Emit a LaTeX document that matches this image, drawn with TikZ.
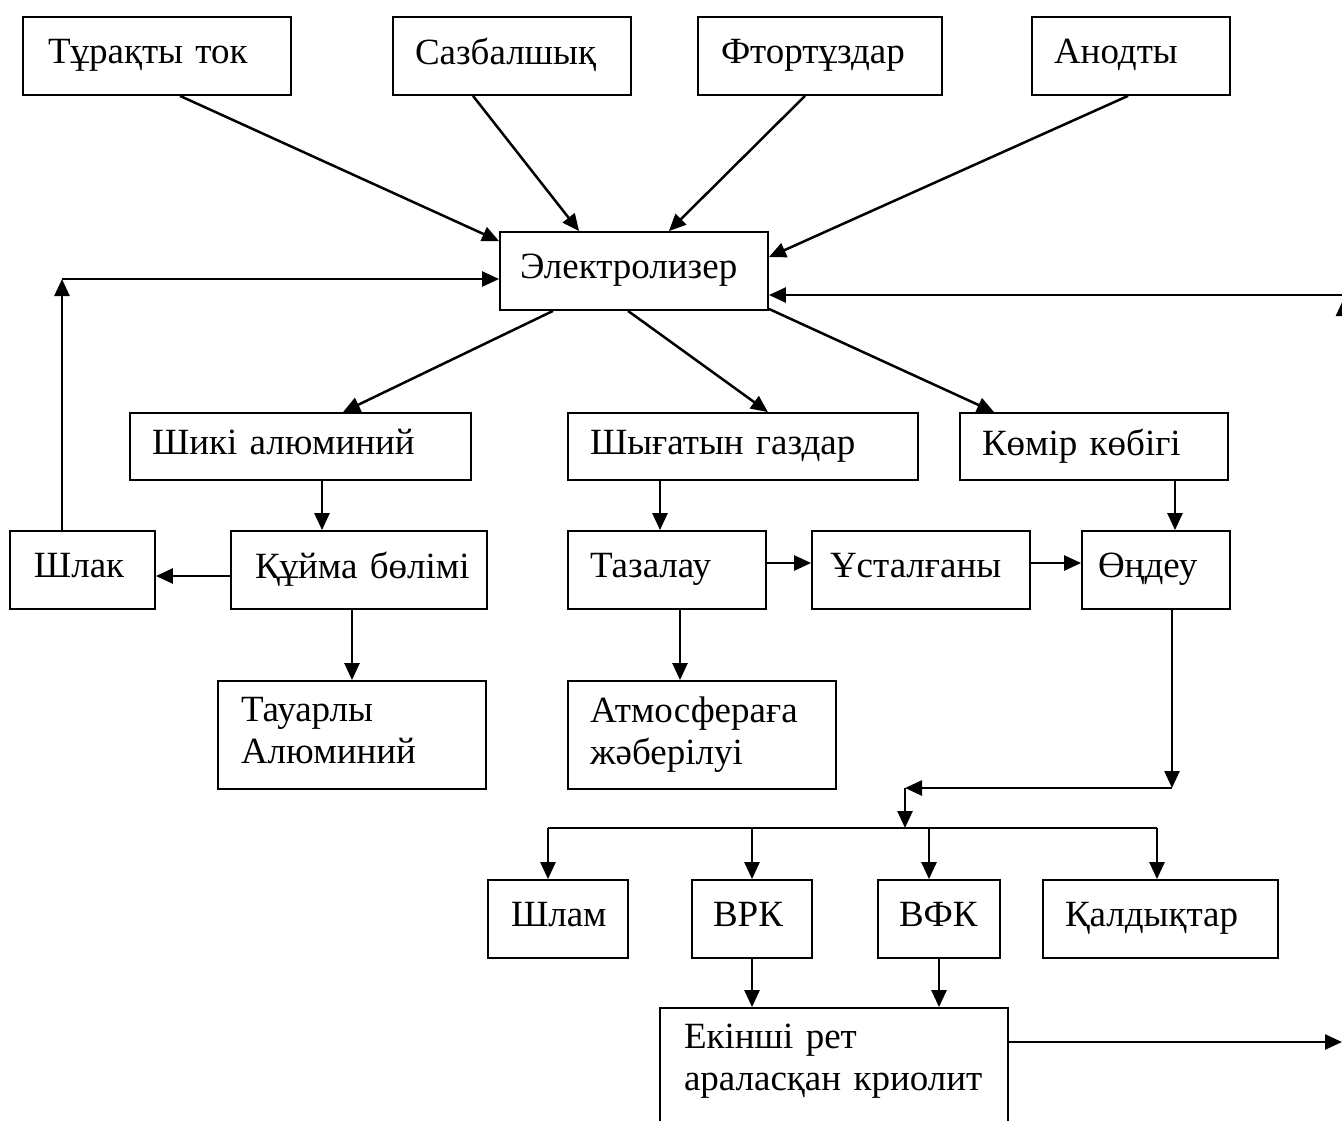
\documentclass[tikz,border=0pt]{standalone}
\usepackage{fontspec}
\setmainfont{Liberation Serif}[WordSpace=0.8]
\usetikzlibrary{arrows.meta}
\tikzset{
  box/.style n args={3}{draw, line width=1.8pt, inner xsep=0pt, inner ysep=0pt,
    text width=#1, minimum height=#2, align=left,
    font=\fontsize{37pt}{42pt}\selectfont,
    execute at begin node={\leftskip=#3\relax\rule[-0.24em]{0pt}{0.9em}},
    execute at end node={\rule[-0.24em]{0pt}{0.9em}}},
  arr/.style={line width=2.5pt, -{Triangle[length=17pt,width=15pt]}},
}
\begin{document}
\begin{tikzpicture}[x=1pt,y=-1pt]
\useasboundingbox (0,0) rectangle (1342,1120);
\clip (0,0) rectangle (1342,1120);
% top row
\node[box={268pt}{78pt}{25pt}] (t1) at (157,56) {Тұрақты ток};
\node[box={238pt}{78pt}{22pt}] (t2) at (512,56) {Сазбалшық};
\node[box={244pt}{78pt}{23pt}] (t3) at (820,56) {Фтортұздар};
\node[box={198pt}{78pt}{22pt}] (t4) at (1131,56) {Анодты};
% electrolyser
\node[box={268pt}{78pt}{20pt}] (el) at (634,271) {Электролизер};
% second row
\node[box={341pt}{67pt}{22pt}] (sa) at (300.5,446.5) {Шикі алюминий};
\node[box={350pt}{67pt}{22pt}] (gas) at (743,446.5) {Шығатын газдар};
\node[box={268pt}{67pt}{22pt}] (kom) at (1094,446.5) {Көмір көбігі};
% third row
\node[box={145pt}{78pt}{24pt}] (shl) at (82.5,570) {Шлак};
\node[box={256pt}{78pt}{24pt}] (kui) at (359,570) {Құйма бөлімі};
\node[box={198pt}{78pt}{22pt}] (taz) at (667,570) {Тазалау};
\node[box={218pt}{78pt}{18pt}] (ust) at (921,570) {Ұсталғаны};
\node[box={148pt}{78pt}{16pt}] (ond) at (1156,570) {Өңдеу};
% fourth row
\node[box={268pt}{108pt}{23pt}] (tau) at (352,735) {Тауарлы\\Алюминий};
\node[box={268pt}{108pt}{22pt}] (atm) at (702,735) {Атмосфераға\\жәберілуі};
% fifth row
\node[box={140pt}{78pt}{23pt}] (shlam) at (558,919) {Шлам};
\node[box={120pt}{78pt}{21pt}] (vrk) at (752,919) {ВРК};
\node[box={122pt}{78pt}{21pt}] (vfk) at (939,919) {ВФК};
\node[box={235pt}{78pt}{22pt}] (kal) at (1160.5,919) {Қалдықтар};
% bottom
\node[box={348pt}{130pt}{24pt}] (ek) at (834,1073) {Екінші рет\\араласқан криолит\rule[-0.85em]{0pt}{0pt}};
% helper coordinates
\coordinate (c1) at (62,279);
\coordinate (rin) at (1345,295);
\coordinate (c2) at (1172,788);
\coordinate (c3) at (905,788);
\coordinate (bL) at (548,828);
\coordinate (bR) at (1157,828);
\coordinate (rout) at (1342,1042);
\coordinate (rdn) at (1343.5,1042);
\coordinate (rup) at (1343.5,299);
% inputs to electrolyser
\draw[arr] ([xshift=23pt]t1.south) -- ([yshift=-10pt]el.north west);
\draw[arr] ([xshift=-39pt]t2.south) -- ([xshift=80pt]el.north west);
\draw[arr] ([xshift=-15pt]t3.south) -- ([xshift=-100pt]el.north east);
\draw[arr] ([xshift=-3pt]t4.south) -- ([yshift=-26pt]el.north east);
\draw[arr] (rin) -- (rin -| el.east);
% slag loop
\draw[arr] (c1 |- shl.north) -- (c1);
\draw[arr] (c1) -- (c1 -| el.west);
% outputs of electrolyser
\draw[arr] ([xshift=-81pt]el.south) -- ([xshift=42.5pt]sa.north);
\draw[arr] ([xshift=-6pt]el.south) -- ([xshift=25pt]gas.north);
\draw[arr] ([yshift=2pt]el.south east) -- ([xshift=35pt]kom.north west);
% second to third rows
\draw[arr] ([xshift=21.5pt]sa.south) -- ([xshift=21.5pt]sa.south |- kui.north);
\draw[arr] ([yshift=-6pt]kui.west) -- ([yshift=-6pt]kui.west -| shl.east);
\draw[arr] ([xshift=-7pt]kui.south) -- ([xshift=-7pt]kui.south |- tau.north);
\draw[arr] ([xshift=-83pt]gas.south) -- ([xshift=-83pt]gas.south |- taz.north);
\draw[arr] ([yshift=7pt]taz.east) -- ([yshift=7pt]taz.east -| ust.west);
\draw[arr] ([yshift=7pt]ust.east) -- ([yshift=7pt]ust.east -| ond.west);
\draw[arr] ([xshift=81pt]kom.south) -- ([xshift=81pt]kom.south |- ond.north);
\draw[arr] ([xshift=13pt]taz.south) -- ([xshift=13pt]taz.south |- atm.north);
% processing to products
\draw[arr] ([xshift=16pt]ond.south) -- (c2);
\draw[arr] (c2) -- (c3);
\draw[arr] (c3) -- (c3 |- bL);
\draw[line width=2pt] (bL) -- (bR);
\draw[arr] (bL) -- (bL |- shlam.north);
\draw[arr] (vrk.north |- bL) -- (vrk.north);
\draw[arr] ([xshift=-10pt]vfk.north |- bL) -- ([xshift=-10pt]vfk.north);
\draw[arr] (bR) -- (bR |- kal.north);
\draw[arr] (vrk.south) -- (vrk.south |- ek.north);
\draw[arr] (vfk.south) -- (vfk.south |- ek.north);
\draw[arr] ([yshift=31pt]ek.east) -- (rout);
\draw[arr] (rdn) -- (rup);
\end{tikzpicture}
\end{document}
